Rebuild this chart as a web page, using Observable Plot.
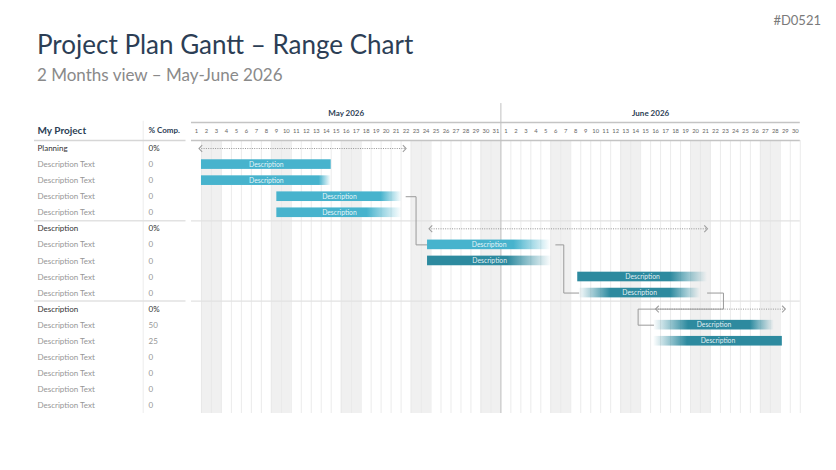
<!DOCTYPE html>
<html><head><meta charset="utf-8">
<script src="https://cdn.jsdelivr.net/npm/d3@7"></script>
<script src="https://cdn.jsdelivr.net/npm/@observablehq/plot@0.6"></script>
<style>
body{margin:0;background:#fff;font-family:Lato,"Open Sans",sans-serif;}
#wrap{position:relative;width:836px;height:470px;overflow:hidden;}
#code{position:absolute;right:15px;top:14px;font-size:13px;line-height:1;color:#7a7a7a;}
#title{position:absolute;left:37px;top:31px;font-size:26px;line-height:1;color:#2c3e55;white-space:nowrap;}
#subtitle{position:absolute;left:37px;top:66px;font-size:17px;line-height:1;color:#8a8a8a;white-space:nowrap;}
#table{position:absolute;left:0;top:95px;}
#gantt{position:absolute;left:191px;top:95px;}
</style></head><body>
<div id="wrap">
  <div id="code">#D0521</div>
  <div id="title">Project Plan Gantt – Range Chart</div>
  <div id="subtitle">2 Months view – May-June 2026</div>
  <div id="table"></div>
  <div id="gantt"></div>
</div>
<script>
// ---------- data ----------
const monthNames = ["May 2026", "June 2026"];
const monthDays = [31, 30];
const yearStart = [2026, 4, 1]; // May 1, 2026

const rowLabels = ["Planning","Description Text","Description Text","Description Text","Description Text",
  "Description","Description Text","Description Text","Description Text","Description Text",
  "Description","Description Text","Description Text","Description Text","Description Text","Description Text","Description Text"];
const rowPct = ["0%","0","0","0","0","0%","0","0","0","0","0%","50","25","0","0","0","0"];
const rowIsGroup = [1,0,0,0,0,1,0,0,0,0,1,0,0,0,0,0,0];

// bars (in days from May 1)
const barRow        = [1, 2, 3, 4, 6, 7, 8, 9, 11, 12];
const barStart      = [1, 1, 8.55, 8.55, 23.65, 23.65, 38.7, 38.8, 46.3, 46.3];
const barSolidStart = [1, 1, 8.55, 8.55, 23.65, 23.65, 38.7, 42.0, 49.8, 49.7];
const barSolidEnd   = [14, 12.8, 19.0, 17.6, 32.3, 31.7, 48.0, 48.0, 56.0, 59.2];
const barEnd        = [14, 14, 21.1, 21.1, 36.0, 36.1, 51.7, 51.0, 58.4, 59.2];
const barTone       = ["light","light","light","light","light","dark","dark","dark","dark","dark"];
const barText       = "Description";

// range arrows (group rows)
const rangeRow   = [0, 5, 10];
const rangeStart = [0.75, 23.8, 46.5];
const rangeEnd   = [21.5, 51.7, 59.5];

// dependency connectors
const connId = [0,0,0,0, 1,1,1,1, 2,2,2,2,2,2];
const connX  = [21.5,22.5,22.5,23.65, 36.5,37.3,37.3,38.8, 51.7,53.3,53.3,44.75,44.75,46.3];
const connY  = [3,3,6,6, 6,6,9,9, 9,9,10,10,11,11];

// ---------- derived tables ----------
const toneColor = {light:"#47b3cd", dark:"#2d8a9f"};
const totalDays = d3.sum(monthDays);
const days = [];
monthDays.forEach((n, m) => { for (let d = 1; d <= n; d++) days.push({k: days.length, label: String(d)}); });
const weekend = days.filter(d => {
  const dt = new Date(yearStart[0], yearStart[1], yearStart[2] + d.k);
  return dt.getDay() === 0 || dt.getDay() === 6;
});
let acc = 0;
const months = monthNames.map((name, i) => { const o = {name, start: acc, end: acc + monthDays[i]}; acc += monthDays[i]; return o; });
const rows = rowLabels.map((label, i) => ({i, label, pct: rowPct[i], group: rowIsGroup[i]}));
const bars = barRow.map((row, i) => ({i, row, start: barStart[i], s1: barSolidStart[i], s2: barSolidEnd[i], end: barEnd[i], tone: barTone[i]}));
const ranges = rangeRow.map((row, i) => ({row, start: rangeStart[i], end: rangeEnd[i]}));
const conn = connId.map((id, i) => ({id, x: connX[i], y: connY[i]}));
const groupBounds = rows.filter(r => r.group && r.i > 0).map(r => r.i - 0.5);

// open chevron symbols (tip at the anchor point)
const chevron = dir => ({draw(ctx, size) {
  const s = Math.sqrt(size) / 2;
  ctx.moveTo(dir * s * 0.9, -s * 0.95);
  ctx.lineTo(0, 0);
  ctx.lineTo(dir * s * 0.9, s * 0.95);
}});

// ---------- layout ----------
const TOP = 95, H = 375;
const yOpt = {type: "linear", domain: [-0.5, 16.5], range: [140 - TOP, 413 - TOP], axis: null};
const HEADER_Y = -1.12, MONTH_Y = -2.2, LINE_Y = -1.62, DAYNUM_Y = -1.06, TOPLINE_Y = -2.8;
const tableW = 191, ganttW = 836 - tableW;
const colLabelX = 37, colPctX = 148, colDivX = 142.7, tableLineX1 = 34, tableLineX2 = 185.5;
const font = "Lato, 'Open Sans', sans-serif";

const table = Plot.plot({
  width: tableW, height: H, margin: 0,
  style: {fontFamily: font, background: "transparent"},
  x: {domain: [0, tableW], range: [0, tableW], axis: null},
  y: yOpt,
  color: {type: "identity"},
  marks: [
    Plot.ruleX([colDivX], {y1: -1.7, y2: 16.5, stroke: "#ececec", strokeWidth: 1}),
    Plot.ruleY([-0.5], {x1: tableLineX1, x2: tableLineX2, stroke: "#d6d6d6", strokeWidth: 1.5}),
    Plot.ruleY(groupBounds, {x1: tableLineX1, x2: tableLineX2, stroke: "#e2e2e2", strokeWidth: 1.5}),
    Plot.text(["My Project"], {x: colLabelX, y: HEADER_Y, text: d => d, textAnchor: "start", fontSize: 10, fontWeight: "bold", fill: "#2c3e55"}),
    Plot.text(["% Comp."], {x: colPctX, y: HEADER_Y, text: d => d, textAnchor: "start", fontSize: 8, fontWeight: "bold", fill: "#2c3e55"}),
    Plot.text(rows, {x: colLabelX, y: "i", text: "label", textAnchor: "start", fontSize: 8,
      fontWeight: d => d.group ? "bold" : "normal", fill: d => d.group ? "#333333" : "#969696"}),
    Plot.text(rows, {x: colPctX, y: "i", text: "pct", textAnchor: "start", fontSize: 8,
      fontWeight: d => d.group ? "bold" : "normal", fill: d => d.group ? "#333333" : "#969696"})
  ]
});
document.getElementById("table").append(table);

const gantt = Plot.plot({
  width: ganttW, height: H, margin: 0,
  style: {fontFamily: font, background: "transparent"},
  x: {domain: [0, totalDays], range: [0, 608.8], axis: null},
  y: yOpt,
  color: {type: "identity"},
  marks: [
    Plot.rect(weekend, {x1: "k", x2: d => d.k + 1, y1: -0.5, y2: 16.5, fill: "#f0f0f0"}),
    Plot.ruleX(d3.range(1, totalDays + 1), {y1: -0.5, y2: 16.5, stroke: "#e6e6e6", strokeWidth: 0.8}),
    Plot.ruleY(groupBounds, {x1: 0, x2: totalDays, stroke: "#e2e2e2", strokeWidth: 1.2}),
    Plot.ruleY([LINE_Y, -0.5], {x1: 0, x2: totalDays, stroke: "#c4c4c4", strokeWidth: 1.6}),
    Plot.ruleX(months.slice(1), {x: "start", y1: TOPLINE_Y, y2: 16.5, stroke: "#c0c0c0", strokeWidth: 1}),
    Plot.text(months, {x: d => (d.start + d.end) / 2, y: MONTH_Y, text: "name", fontSize: 8, fontWeight: "bold", fill: "#2c3e55"}),
    Plot.text(days, {x: d => d.k + 0.5, y: DAYNUM_Y, text: "label", fontSize: 5.8, fill: "#666"}),
    Plot.link(ranges, {x1: "start", x2: "end", y1: "row", y2: "row", stroke: "#949494", strokeWidth: 1,
      strokeDasharray: "1,1.3"}),
    Plot.dot(ranges, {x: "start", y: "row", symbol: chevron(1), r: 4, stroke: "#a0a0a0", fill: "none", strokeWidth: 1.1}),
    Plot.dot(ranges, {x: "end", y: "row", symbol: chevron(-1), r: 4, stroke: "#a0a0a0", fill: "none", strokeWidth: 1.1}),
    Plot.line(conn, {x: "x", y: "y", z: "id", stroke: "#9a9a9a", strokeWidth: 1}),
    Plot.rect(bars, {x1: "start", x2: "end", y1: d => d.row - 0.3, y2: d => d.row + 0.3, fill: d => `url(#bargrad${d.i})`}),
    Plot.text(bars, {x: d => (d.start + d.end) / 2, y: "row", text: () => barText, fontSize: 6.8, fill: "#ffffff", fillOpacity: 0.88})
  ]
});
// gradient definitions for bar fades
const defs = d3.select(gantt).insert("defs", ":first-child");
bars.forEach(b => {
  const len = b.end - b.start;
  const g = defs.append("linearGradient").attr("id", `bargrad${b.i}`).attr("x1", 0).attr("x2", 1).attr("y1", 0).attr("y2", 0);
  const c = toneColor[b.tone];
  if (b.s1 > b.start) {
    g.append("stop").attr("offset", 0).attr("stop-color", c).attr("stop-opacity", 0);
    g.append("stop").attr("offset", (b.s1 - b.start) / len).attr("stop-color", c).attr("stop-opacity", 1);
  } else {
    g.append("stop").attr("offset", 0).attr("stop-color", c).attr("stop-opacity", 1);
  }
  g.append("stop").attr("offset", (b.s2 - b.start) / len).attr("stop-color", c).attr("stop-opacity", 1);
  g.append("stop").attr("offset", 1).attr("stop-color", c).attr("stop-opacity", b.s2 < b.end ? 0 : 1);
});
document.getElementById("gantt").append(gantt);
</script>
</body></html>
